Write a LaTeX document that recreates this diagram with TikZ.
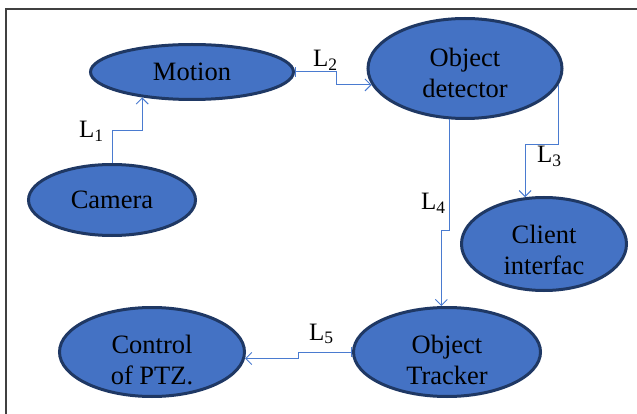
\documentclass[tikz,border=0pt]{standalone}
\usepackage{fontspec}
\setmainfont{Liberation Serif}
\usetikzlibrary{shapes.geometric,arrows.meta}
\definecolor{fillblue}{HTML}{4472C4}
\definecolor{edgeblue}{HTML}{1F3864}
\definecolor{linkblue}{HTML}{4A7BD0}
\definecolor{framegray}{HTML}{404040}
\begin{document}
\begin{tikzpicture}[x=1pt,y=-1pt,
  blob/.style={ellipse, draw=edgeblue, fill=fillblue, line width=3pt, inner sep=0pt},
  txt/.style={align=center, font=\fontsize{26.5}{31}\selectfont, inner sep=0pt},
  conn/.style={draw=linkblue, line width=1pt, -{Straight Barb[length=6pt,width=12pt]}},
  barconn/.style={draw=linkblue, line width=1pt, {Bar[width=10pt]}-{Straight Barb[length=6pt,width=12pt]}},
  lab/.style={anchor=base west, inner sep=0pt, font=\fontsize{25}{29}\selectfont}]
\useasboundingbox (0,0) rectangle (637,414);
\fill[white] (0,0) rectangle (637,414);
\draw[framegray, line width=2.2pt] (6,416) -- (6,9) -- (639,9);

\node[blob, minimum width=203pt, minimum height=55pt] (mot) at (192,72) {};
\node[blob, minimum width=194pt, minimum height=100pt] (det) at (465,68.5) {};
\node[blob, minimum width=167pt, minimum height=71pt] (cam) at (112,200) {};
\node[blob, minimum width=165pt, minimum height=93pt] (cli) at (544,244) {};
\node[blob, minimum width=185pt, minimum height=89pt] (ctl) at (152,352) {};
\node[blob, minimum width=187pt, minimum height=89pt] (trk) at (447,352) {};

\node[txt] (tmot) at (mot.center) {Motion};
\node[txt] (tdet) at ([yshift=-4pt]det.center) {Object\\detector};
\node[txt] (tcam) at (cam.center) {Camera};
\node[txt] (tcli) at ([yshift=-6pt]cli.center) {Client\\interfac};
\begin{scope}
  \clip (0,0) rectangle (637,384);
  \node[txt] (tctl) at ([yshift=-8pt]ctl.center) {Control\\of PTZ.};
  \node[txt] (ttrk) at ([yshift=-8pt]trk.center) {Object\\Tracker};
\end{scope}

% connectors
\draw[conn] (cam.north) -- ++(0,-32) -| (mot.207.5);
\draw[barconn] (mot.east) -- ++(41,0) |- (det.190);
\draw[conn] (det.350) -- ++(0,60) -| (cli.112);
\draw[conn] (det.253) -- ++(0,111) -| (trk.97);
\draw[barconn] (trk.180) -- ++(-54,0) |- (ctl.356);

% labels
\node[lab] (l1) at (79,138) {L\textsubscript{1}};
\node[lab] (l2) at (313,67) {L\textsubscript{2}};
\node[lab] (l3) at (537,163) {L\textsubscript{3}};
\node[lab] (l4) at (421,210) {L\textsubscript{4}};
\node[lab] (l5) at (309,340) {L\textsubscript{5}};
\end{tikzpicture}
\end{document}
